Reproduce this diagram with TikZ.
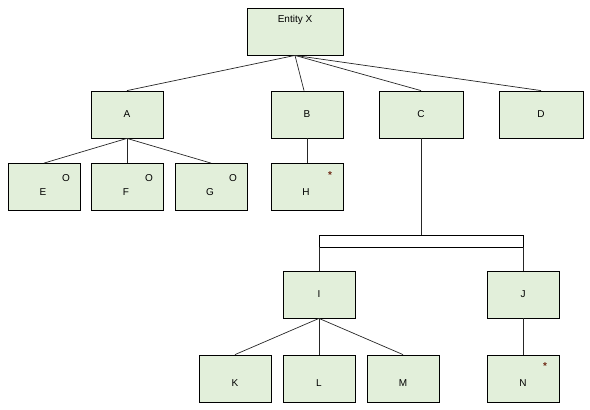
\documentclass[tikz,border=0pt]{standalone}
\usepackage{fontspec}
\setmainfont{Liberation Sans}
\definecolor{boxfill}{RGB}{226,239,218}
\definecolor{starc}{RGB}{110,40,20}
\begin{document}
\begin{tikzpicture}[x=1pt,y=-1pt,
  ent/.style={draw=black,fill=boxfill,line width=0.8pt,minimum width=72pt,minimum height=47pt,inner sep=0pt,font=\fontsize{10}{11}\selectfont},
  wide/.style={ent,minimum width=84pt},
  conn/.style={draw=black!85,line width=0.7pt},
  tag/.style={font=\fontsize{10}{11}\selectfont,inner sep=0pt},
  startag/.style={font=\bfseries\fontsize{10}{11}\selectfont,inner sep=0pt,text=starc}]
\useasboundingbox (0,0) rectangle (590,410);
% level 0
\node[ent,minimum width=96pt] (X) at (295,31.5) {};
\node[tag] at (295,20) {Entity X};
% level 1
\node[ent] (A) at (127,114.5) {A};
\node[ent] (B) at (307,114.5) {B};
\node[wide] (C) at (421,114.5) {C};
\node[wide] (D) at (541,114.5) {D};
% level 2
\node[ent] (E) at (44,187) {};
\node[ent] (F) at (127,187) {};
\node[ent] (G) at (211,187) {};
\node[ent] (H) at (307,187) {};
\foreach \n/\t in {E/E,F/F,G/G,H/H}{\node[tag] at ([xshift=-1pt,yshift=-5pt]\n.center) {\t};}
\foreach \n in {E,F,G}{\node[tag] at ([xshift=22pt,yshift=9pt]\n.center) {O};}
\node[startag] at ([xshift=23pt,yshift=12pt]H.center) {*};
% bar
\coordinate (barTL) at (319,235);
\coordinate (barBR) at (523,247);
\draw[line width=0.8pt] (barTL) rectangle (barBR);
\coordinate (barTop) at (421,235);
\coordinate (barL) at (319,247);
\coordinate (barR) at (523,247);
% level 3
\node[ent] (I) at (319,294.5) {I};
\node[ent] (J) at (523,294.5) {J};
% level 4
\node[ent] (K) at (235,378.5) {};
\node[ent] (L) at (319,378.5) {};
\node[ent] (M) at (403,378.5) {};
\node[ent] (N) at (523,378.5) {};
\foreach \n/\t in {K/K,L/L,M/M,N/N}{\node[tag] at ([yshift=-5pt]\n.center) {\t};}
\node[startag] at ([xshift=22pt,yshift=12pt]N.center) {*};
% connectors
\draw[conn] (X.south) -- (A.north);
\draw[conn] (X.south) -- ([xshift=-3pt]B.north);
\draw[conn] (X.south) -- (C.north);
\draw[conn] (X.south) -- (D.north);
\draw[conn] (A.south) -- (E.north);
\draw[conn] (A.south) -- (F.north);
\draw[conn] (A.south) -- (G.north);
\draw[conn] (B.south) -- (H.north);
\draw[conn] (C.south) -- (barTop);
\draw[conn] (barL) -- (I.north);
\draw[conn] (barR) -- (J.north);
\draw[conn] (I.south) -- (K.north);
\draw[conn] (I.south) -- (L.north);
\draw[conn] (I.south) -- (M.north);
\draw[conn] (J.south) -- (N.north);
\end{tikzpicture}
\end{document}
